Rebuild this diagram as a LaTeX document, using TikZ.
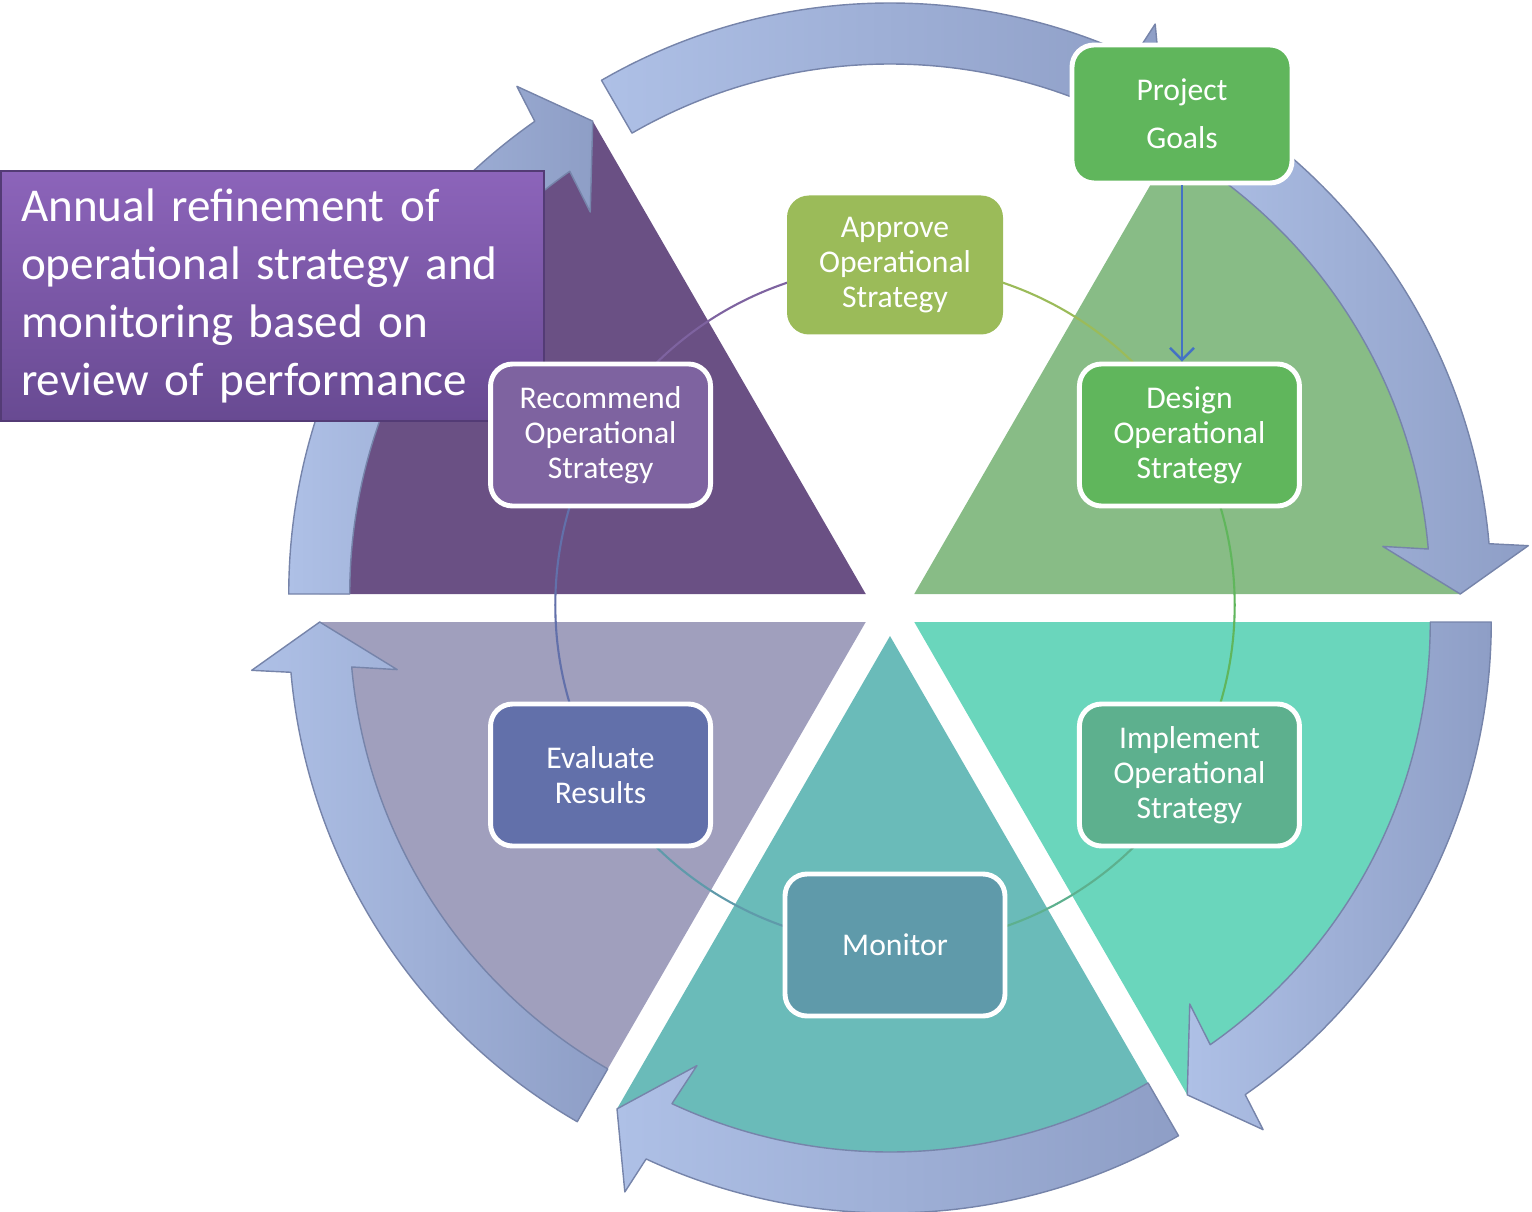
\documentclass[tikz,border=0pt]{standalone}
\usepackage{fontspec}
\setmainfont{Carlito}
\usetikzlibrary{arrows.meta,calc}

\definecolor{purpseg}{RGB}{106,80,132}
\definecolor{greenseg}{RGB}{136,188,134}
\definecolor{mintseg}{RGB}{106,214,188}
\definecolor{tealseg}{RGB}{106,187,185}
\definecolor{lavseg}{RGB}{160,159,189}
\definecolor{bandlight}{RGB}{174,192,230}
\definecolor{banddark}{RGB}{142,158,198}
\definecolor{bandedge}{RGB}{118,132,170}
\definecolor{goalcol}{RGB}{96,182,92}
\definecolor{approvecol}{RGB}{155,187,89}
\definecolor{implcol}{RGB}{93,176,142}
\definecolor{moncol}{RGB}{95,154,170}
\definecolor{evalcol}{RGB}{98,112,170}
\definecolor{reccol}{RGB}{126,99,160}
\definecolor{titletop}{RGB}{140,100,186}
\definecolor{titlebot}{RGB}{104,74,146}
\definecolor{arrowblue}{RGB}{68,114,196}

\pgfdeclarelayer{back}
\pgfdeclarelayer{wires}
\pgfsetlayers{back,wires,main}

\begin{document}
\begin{tikzpicture}[x=0.1mm, y=0.1mm]

\useasboundingbox (-890,-603) rectangle (642,608);

% Step box
\tikzstyle{stepbox}=[draw=white, line width=1.4pt, rounded corners=2.2mm, minimum width=2.2cm, minimum height=1.42cm, align=center, text=white, font=\fontsize{9}{10}\selectfont]

% Arrow band round the cycle
\tikzstyle{band}=[left color=bandlight, right color=banddark, draw=bandedge, line width=0.4pt, line join=round]

% Wire between steps
\tikzstyle{wire}=[line width=0.6pt, looseness=0.91]

% Title box
\tikzstyle{titlebox}=[top color=titletop, bottom color=titlebot, draw=titlebot!80!black, line width=0.6pt, minimum width=5.43cm, minimum height=2.5cm, inner xsep=2mm, text width=5.03cm, align=left, text=white, font=\fontsize{13.4}{16.5}\selectfont]


%%%%%%%%%%%%%%%%%%%%%%%%%%%%%%%%%%%%%%%%%%%%%%%%%%%%%%%%%%%%%%%%%
%
%       Sectors and arrow bands
%
\begin{pgfonlayer}{back}
\foreach \b/\col in {30/greenseg, -30/mintseg, -90/tealseg, -150/lavseg, 150/purpseg}{
  \begin{scope}[shift={(\b:28)}]
    \fill[\col] (0,0) -- (\b-30:546) arc[start angle=\b-30, end angle=\b+30, radius=546] -- cycle;
  \end{scope}
}
\foreach \b in {90,30,-30,-90,-150,150}{
  \begin{scope}[shift={(\b:28)}]
    \draw[band] (\b+30:516) arc[start angle=\b+30, end angle=\b-25, radius=516]
      -- (\b-24.2:471) -- (\b-30:546) -- (\b-25.5:616) -- (\b-25:577)
      arc[start angle=\b-25, end angle=\b+30, radius=577] -- cycle;
  \end{scope}
}
\end{pgfonlayer}

%%%%%%%%%%%%%%%%%%%%%%%%%%%%%%%%%%%%%%%%%%%%%%%%%%%%%%%%%%%%%%%%%
%
%       Title
%
\node (annual) [titlebox, anchor=north west] at (-890,438)
  {Annual refinement of\\operational strategy and\\monitoring based on\\review of performance};

%%%%%%%%%%%%%%%%%%%%%%%%%%%%%%%%%%%%%%%%%%%%%%%%%%%%%%%%%%%%%%%%%
%
%       Steps
%
\begin{scope}[shift={(5,3)}]
\node (approve)   [stepbox, draw=none, fill=approvecol, minimum width=2.16cm, minimum height=1.39cm] at (90:340) {Approve\\Operational\\Strategy};
\node (design)    [stepbox, fill=goalcol]    at (30:340)  {Design\\Operational\\Strategy};
\node (implement) [stepbox, fill=implcol]    at (-30:340) {Implement\\Operational\\Strategy};
\node (monitor)   [stepbox, fill=moncol]     at (-90:340) {Monitor};
\node (evaluate)  [stepbox, fill=evalcol]    at (210:340) {Evaluate\\Results};
\node (recommend) [stepbox, fill=reccol]     at (150:340) {Recommend\\Operational\\Strategy};
\end{scope}

\node (goals) [stepbox, fill=goalcol, minimum height=1.38cm, font=\fontsize{9}{13.7}\selectfont] at (292,494) {Project\\Goals};

\draw [arrowblue, line width=0.7pt, -{Straight Barb[length=1.2mm, width=2.4mm]}] (goals.south) -- (goals.south |- design.north);

% wires round the cycle
\begin{pgfonlayer}{wires}
\draw[wire, approvecol] (approve.center)   to[bend left=30] (design.center);
\draw[wire, goalcol]    (design.center)    to[bend left=30] (implement.center);
\draw[wire, implcol]    (implement.center) to[bend left=30] (monitor.center);
\draw[wire, moncol]     (monitor.center)   to[bend left=30] (evaluate.center);
\draw[wire, evalcol]    (evaluate.center)  to[bend left=30] (recommend.center);
\draw[wire, reccol]     (recommend.center) to[bend left=30] (approve.center);
\end{pgfonlayer}

\end{tikzpicture}
\end{document}
